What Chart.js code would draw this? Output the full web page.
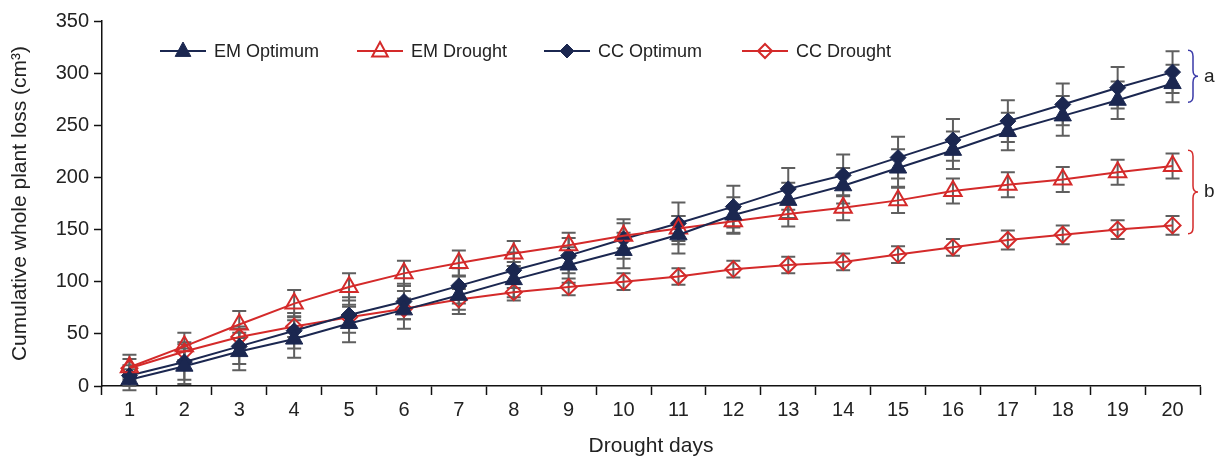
<!DOCTYPE html>
<html>
<head>
<meta charset="utf-8">
<script src="https://cdn.jsdelivr.net/npm/chart.js@4.4.1/dist/chart.umd.min.js"></script>
<style>
  html, body { margin: 0; padding: 0; background: #ffffff; }
  #wrap { width: 1215px; height: 459px; position: relative; }
</style>
</head>
<body>
<div id="wrap"><canvas id="plantLoss"></canvas></div>
<script>
const days = ['1', '2', '3', '4', '5', '6', '7', '8', '9', '10', '11', '12', '13', '14', '15', '16', '17', '18', '19', '20'];
const seriesNames = ['EM Optimum', 'EM Drought', 'CC Optimum', 'CC Drought'];

const emOptimum = [6, 19, 33, 45, 60, 73, 87, 102, 116, 130, 145, 164, 178, 192, 209, 226, 244, 259, 274, 290];
const emDrought = [18, 38, 59, 79, 95, 108, 118, 127, 135, 144, 151, 158, 165, 171, 178, 187, 193, 198, 205, 211];
const ccOptimum = [10, 23, 38, 53, 68, 81, 96, 111, 125, 141, 156, 172, 189, 202, 219, 236, 254, 270, 286, 301];
const ccDrought = [17, 33, 47, 57, 66, 74, 83, 90, 95, 100, 105, 112, 116, 119, 126, 133, 140, 145, 150, 154];

const emOptimumErr = [10, 17, 18, 18, 18, 18, 18, 17, 17, 17, 18, 17, 17, 17, 18, 18, 18, 19, 18, 18];
const emDroughtErr = [12, 13, 13, 13, 13, 12, 12, 12, 12, 12, 12, 12, 12, 12, 12, 12, 12, 12, 12, 12];
const ccOptimumErr = [10, 17, 17, 17, 17, 17, 17, 17, 17, 19, 20, 20, 20, 20, 20, 20, 20, 20, 20, 20];
const ccDroughtErr = [9, 9, 10, 10, 10, 10, 10, 8, 8, 8, 8, 8, 8, 8, 8, 8, 9, 9, 9, 9];

// significance groups shown with braces at the right edge
const groupLabels = ['a', 'b'];
const groupRanges = [[322, 272], [226, 146]];

const navy = '#1b2750';
const red = '#d42a2a';
const fontFamily = "'Liberation Sans', Arial, sans-serif";

const errorBars = {
  id: 'errorBars',
  beforeDatasetsDraw(chart) {
    const { ctx, scales } = chart;
    const y = scales.y;
    ctx.save();
    ctx.strokeStyle = '#5f5f5f';
    ctx.lineWidth = 2;
    chart.data.datasets.forEach((ds, i) => {
      const meta = chart.getDatasetMeta(i);
      meta.data.forEach((pt, j) => {
        const v = ds.data[j];
        const e = ds.errors[j];
        const top = y.getPixelForValue(v + e);
        const bot = y.getPixelForValue(v - e);
        ctx.beginPath();
        ctx.moveTo(pt.x, top);
        ctx.lineTo(pt.x, bot);
        ctx.moveTo(pt.x - 7, top);
        ctx.lineTo(pt.x + 7, top);
        ctx.moveTo(pt.x - 7, bot);
        ctx.lineTo(pt.x + 7, bot);
        ctx.stroke();
      });
    });
    ctx.restore();
  },
};

function drawMarker(ctx, style, x, y, r) {
  if (style === 'triangle') {
    ctx.moveTo(x, y - r);
    ctx.lineTo(x + r * 0.87, y + r * 0.6);
    ctx.lineTo(x - r * 0.87, y + r * 0.6);
    ctx.closePath();
  } else {
    ctx.moveTo(x, y - r);
    ctx.lineTo(x + r, y);
    ctx.lineTo(x, y + r);
    ctx.lineTo(x - r, y);
    ctx.closePath();
  }
}

const lineLegend = {
  id: 'lineLegend',
  afterDraw(chart) {
    const { ctx } = chart;
    const startX = [160, 357, 544, 742];
    const yPos = 51;
    ctx.save();
    ctx.font = '18px ' + fontFamily;
    ctx.textBaseline = 'middle';
    chart.data.datasets.forEach((ds, i) => {
      const x0 = startX[i];
      ctx.strokeStyle = ds.borderColor;
      ctx.lineWidth = 2;
      ctx.beginPath();
      ctx.moveTo(x0, yPos);
      ctx.lineTo(x0 + 46, yPos);
      ctx.stroke();
      ctx.fillStyle = ds.pointBackgroundColor;
      ctx.strokeStyle = ds.pointBorderColor;
      ctx.lineWidth = ds.pointBorderWidth;
      ctx.beginPath();
      drawMarker(ctx, ds.pointStyle, x0 + 23, yPos, ds.pointStyle === 'triangle' ? 9 : 7);
      if (ds.pointBackgroundColor !== 'transparent') ctx.fill();
      ctx.stroke();
      ctx.fillStyle = '#222222';
      ctx.fillText(ds.label, x0 + 54, yPos + 1);
    });
    ctx.restore();
  },
};

const groupBraces = {
  id: 'groupBraces',
  afterDraw(chart) {
    const { ctx, scales, chartArea } = chart;
    const colors = ['#3a3aa8', red];
    ctx.save();
    groupRanges.forEach((range, i) => {
      const top = scales.y.getPixelForValue(range[0]);
      const bot = scales.y.getPixelForValue(range[1]);
      const mid = (top + bot) / 2;
      const x = chartArea.right - 12;
      const w = 5;
      ctx.strokeStyle = colors[i];
      ctx.lineWidth = 1.5;
      ctx.beginPath();
      ctx.moveTo(x, top);
      ctx.quadraticCurveTo(x + w, top, x + w, top + 6);
      ctx.lineTo(x + w, mid - 6);
      ctx.quadraticCurveTo(x + w, mid, x + 2 * w, mid);
      ctx.quadraticCurveTo(x + w, mid, x + w, mid + 6);
      ctx.lineTo(x + w, bot - 6);
      ctx.quadraticCurveTo(x + w, bot, x, bot);
      ctx.stroke();
      ctx.fillStyle = '#222222';
      ctx.font = '19px ' + fontFamily;
      ctx.textBaseline = 'middle';
      ctx.fillText(groupLabels[i], x + 2 * w + 6, mid);
    });
    ctx.restore();
  },
};

new Chart(document.getElementById('plantLoss'), {
  type: 'line',
  plugins: [errorBars, lineLegend, groupBraces],
  data: {
    labels: days,
    datasets: [
      {
        label: seriesNames[0],
        data: emOptimum,
        errors: emOptimumErr,
        borderColor: navy,
        borderWidth: 2,
        pointStyle: 'triangle',
        pointRadius: 10,
        pointBackgroundColor: navy,
        pointBorderColor: navy,
        pointBorderWidth: 1,
      },
      {
        label: seriesNames[1],
        data: emDrought,
        errors: emDroughtErr,
        borderColor: red,
        borderWidth: 2,
        pointStyle: 'triangle',
        pointRadius: 10,
        pointBackgroundColor: 'transparent',
        pointBorderColor: red,
        pointBorderWidth: 2,
      },
      {
        label: seriesNames[2],
        data: ccOptimum,
        errors: ccOptimumErr,
        borderColor: navy,
        borderWidth: 2,
        pointStyle: 'rectRot',
        pointRadius: 8,
        pointBackgroundColor: navy,
        pointBorderColor: navy,
        pointBorderWidth: 1,
      },
      {
        label: seriesNames[3],
        data: ccDrought,
        errors: ccDroughtErr,
        borderColor: red,
        borderWidth: 2,
        pointStyle: 'rectRot',
        pointRadius: 8,
        pointBackgroundColor: 'transparent',
        pointBorderColor: red,
        pointBorderWidth: 2,
      },
    ],
  },
  options: {
    responsive: true,
    maintainAspectRatio: false,
    animation: false,
    layout: { padding: { top: 21, right: 15, left: 0, bottom: 0 } },
    plugins: {
      legend: { display: false },
      tooltip: { enabled: false },
    },
    scales: {
      x: {
        offset: true,
        grid: {
          offset: true,
          drawOnChartArea: false,
          drawTicks: true,
          tickLength: 9,
          tickWidth: 1.5,
          tickColor: '#111111',
        },
        border: { display: true, color: '#111111', width: 1.5 },
        ticks: {
          color: '#222222',
          font: { family: fontFamily, size: 20 },
          padding: 3,
          maxRotation: 0,
        },
        title: {
          display: true,
          text: 'Drought days',
          color: '#222222',
          font: { family: fontFamily, size: 21 },
          padding: { top: 0, bottom: 0 },
        },
        afterFit(scale) { scale.height = 73; },
      },
      y: {
        min: 0,
        max: 350,
        grid: {
          drawOnChartArea: false,
          drawTicks: true,
          tickLength: 8,
          tickWidth: 1.5,
          tickColor: '#111111',
        },
        border: { display: true, color: '#111111', width: 1.5 },
        ticks: {
          stepSize: 50,
          color: '#222222',
          font: { family: fontFamily, size: 20 },
          padding: 5,
        },
        title: {
          display: true,
          text: 'Cumulative whole plant loss (cm³)',
          color: '#222222',
          font: { family: fontFamily, size: 21 },
          padding: { top: 8, bottom: 0 },
        },
        afterFit(scale) { scale.width = 102; },
      },
    },
  },
});
</script>
</body>
</html>
